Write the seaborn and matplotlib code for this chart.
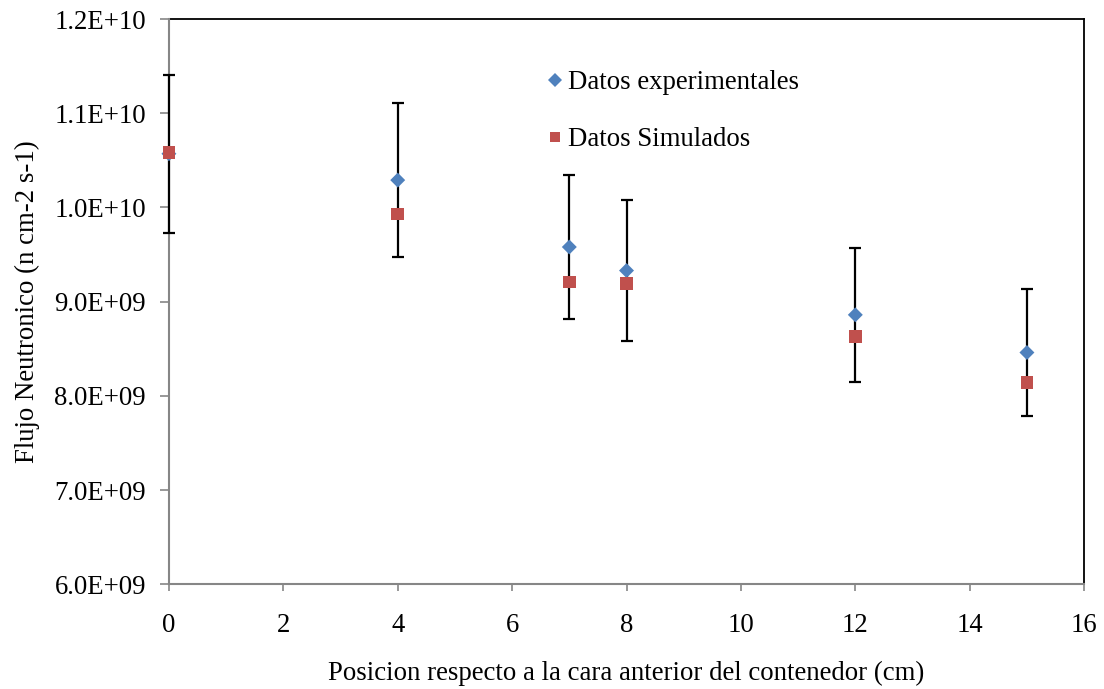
import matplotlib
matplotlib.use("Agg")
import matplotlib.pyplot as plt
import seaborn as sns
import pandas as pd
from matplotlib.ticker import FuncFormatter, MultipleLocator
from matplotlib.lines import Line2D

# Data
posicion = [0, 4, 7, 8, 12, 15]
flujo_experimental = [1.057e10, 1.029e10, 9.58e9, 9.33e9, 8.86e9, 8.46e9]
flujo_simulado = [1.058e10, 9.93e9, 9.21e9, 9.19e9, 8.63e9, 8.14e9]
error_experimental = [8.4e8, 8.2e8, 7.6e8, 7.5e8, 7.1e8, 6.7e8]
series_names = ["Datos experimentales", "Datos Simulados"]

sns.set_theme(style="white")
plt.rcParams['font.family'] = ['Liberation Serif', 'DejaVu Serif']
plt.rcParams['text.color'] = 'black'
plt.rcParams['axes.labelcolor'] = 'black'

FS = 19.3

df = pd.DataFrame({
    "x": posicion * 2,
    "y": flujo_experimental + flujo_simulado,
    "serie": [series_names[0]] * len(posicion) + [series_names[1]] * len(posicion),
})

fig = plt.figure(figsize=(11.04, 6.89), dpi=100)
ax = fig.add_axes([0.153, 0.152, 0.829, 0.8204])

eb = ax.errorbar(posicion, flujo_experimental, yerr=error_experimental, fmt='none',
                 ecolor='black', elinewidth=1.6, capsize=4.5, capthick=1.6, zorder=5)
for art in eb.lines:
    if art is None:
        continue
    items = art if isinstance(art, (tuple, list)) else [art]
    for a in items:
        a.set_clip_on(False)

sns.scatterplot(data=df, x="x", y="y", hue="serie", style="serie",
                palette={series_names[0]: "#4F81BD", series_names[1]: "#C0504D"},
                markers={series_names[0]: "D", series_names[1]: "s"},
                size="serie", sizes={series_names[0]: 58, series_names[1]: 83},
                edgecolor="none", linewidth=0, ax=ax, zorder=6, legend=False,
                clip_on=False)

ax.set_xlim(0, 16)
ax.set_ylim(6e9, 1.2e10)
ax.xaxis.set_major_locator(MultipleLocator(2))
ax.yaxis.set_major_locator(MultipleLocator(1e9))
ax.yaxis.set_major_formatter(FuncFormatter(lambda v, p: f"{v:.1E}"))

ax.tick_params(axis='both', labelsize=FS, labelcolor='black', direction='out',
               left=True, bottom=True, width=1.2, color='#868686')
ax.tick_params(axis='y', length=6.5, pad=10)
ax.tick_params(axis='x', length=5, pad=15.5)

for s in ['left', 'bottom']:
    ax.spines[s].set_color('#868686')
    ax.spines[s].set_linewidth(1.5)
    ax.spines[s].set_zorder(4)
for s in ['top', 'right']:
    ax.spines[s].set_color('black')
    ax.spines[s].set_linewidth(1.3)

ax.set_xlabel("Posicion respecto a la cara anterior del contenedor (cm)", fontsize=FS, labelpad=17)
ax.set_ylabel("Flujo Neutronico (n cm-2 s-1)", fontsize=FS, labelpad=10)

handles = [
    Line2D([], [], linestyle='none', marker='D', markersize=7, color='#4F81BD', markeredgewidth=0),
    Line2D([], [], linestyle='none', marker='s', markersize=7.9, color='#C0504D', markeredgewidth=0),
]
ax.legend(handles, series_names, loc='upper left', bbox_to_anchor=(0.3956, 0.9285),
          frameon=False, fontsize=FS, handletextpad=0.0, labelspacing=1.2,
          handlelength=1.0, borderaxespad=0)

fig.savefig("out.png", dpi=100)
